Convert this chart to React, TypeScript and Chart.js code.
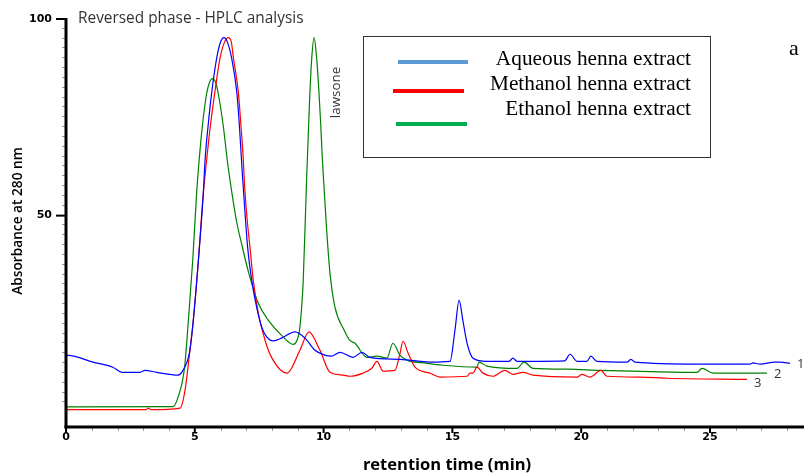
import React, { useEffect, useRef } from "react";
import { Chart, registerables } from "chart.js";
Chart.register(...registerables);

// retention time (min) and absorbance at 280 nm
const aqueousTime = [0, 0.08, 1.05, 1.82, 2.17, 2.87, 3.07, 3.53, 4.35, 4.54, 4.81, 4.94, 5.14, 5.33, 5.4, 5.52, 5.66, 5.85, 6.0, 6.13, 6.27, 6.43, 6.63, 6.73, 6.84, 6.95, 7.05, 7.21, 7.4, 7.6, 7.79, 8.05, 8.37, 8.89, 9.28, 9.67, 10.07, 10.3, 10.64, 11.14, 11.49, 11.8, 12.97, 14.13, 14.91, 15.1, 15.26, 15.41, 15.57, 15.8, 16.34, 17.2, 17.35, 17.51, 18.4, 19.35, 19.57, 19.84, 20.22, 20.38, 20.61, 21.78, 21.93, 22.09, 24.5, 26.55, 26.67, 26.94, 27.52, 27.72, 28.11];
const aqueousAbs = [14.2, 14.2, 12.5, 11.2, 9.9, 9.9, 10.4, 9.9, 9.2, 10.4, 15.5, 23, 38.4, 55.4, 64, 72.8, 81.2, 89.8, 93.9, 95, 93.8, 89.8, 81.2, 72.8, 61, 50.4, 41.8, 33.3, 26.5, 21.4, 18.9, 17.9, 18.6, 20.2, 18.6, 15.5, 14.2, 14, 15, 13.7, 15, 13.7, 13.2, 12.5, 12.7, 20.6, 28.2, 23, 17.3, 13.5, 12.7, 12.7, 13.5, 12.7, 12.7, 12.8, 14.5, 12.7, 12.7, 14, 12.7, 12.5, 13.2, 12.5, 12, 12, 12.3, 12, 12.5, 12.5, 12.2];

const methanolTime = [0, 3.1, 3.2, 3.3, 4.43, 4.62, 4.81, 4.94, 5.14, 5.33, 5.43, 5.6, 5.78, 5.98, 6.15, 6.3, 6.42, 6.5, 6.69, 6.79, 6.88, 6.92, 7.01, 7.14, 7.27, 7.47, 7.73, 7.98, 8.58, 9.08, 9.43, 9.86, 10.25, 10.75, 11.02, 11.53, 11.88, 12.07, 12.31, 12.77, 12.97, 13.08, 13.28, 13.55, 14.13, 14.52, 15.57, 15.68, 15.8, 15.95, 16.19, 16.58, 17.04, 17.35, 17.74, 18.13, 19.84, 20.03, 20.34, 20.77, 21.0, 22.28, 23.33, 26.44];
const methanolAbs = [0.4, 0.4, 0.8, 0.4, 0.8, 5.3, 15.5, 23, 38.4, 55.4, 62, 72.3, 81.2, 89.8, 93.8, 95, 93.8, 89.8, 81.2, 72.8, 64.4, 58.8, 50.4, 41.8, 33.3, 24.8, 18, 13.7, 9.7, 15.5, 20.2, 15.5, 9.9, 9.2, 8.9, 9.7, 11, 12.7, 10.2, 10.4, 14.8, 17.8, 14.8, 11.2, 9.7, 8.7, 8.9, 9.7, 9.7, 11.2, 9.7, 8.9, 10.4, 9.4, 9.9, 9.2, 8.7, 9.4, 8.7, 10.4, 8.9, 8.7, 8.4, 8.1];

const ethanolTime = [0, 4.15, 4.35, 4.6, 4.75, 4.92, 5.07, 5.17, 5.29, 5.46, 5.58, 5.68, 5.8, 5.91, 6.11, 6.26, 6.43, 6.63, 6.82, 7.08, 7.47, 7.85, 8.37, 8.82, 8.95, 9.08, 9.21, 9.34, 9.42, 9.47, 9.54, 9.63, 9.73, 9.82, 9.89, 9.95, 10.0, 10.12, 10.25, 10.44, 10.8, 11.02, 11.22, 11.68, 12.07, 12.46, 12.69, 12.97, 13.24, 14.02, 14.63, 15.95, 16.03, 16.34, 17.51, 17.78, 18.13, 19.45, 20.73, 22.01, 24.5, 24.69, 25.12, 27.21];
const ethanolAbs = [1.1, 1.2, 3.6, 11, 23, 38.4, 55.4, 63.9, 72.3, 80.8, 83.8, 84.6, 83.8, 80.8, 72.3, 63.9, 56, 48, 42.5, 35.5, 27.4, 23.2, 19.3, 17, 17.8, 21.4, 33.3, 58.8, 72.8, 81.2, 89.8, 95, 89.8, 81.2, 72.8, 64.4, 58.8, 46, 35, 26.5, 20.6, 18, 17.3, 13.7, 14, 13.5, 17.3, 14.2, 13, 12.2, 11.7, 11.2, 12.5, 11.5, 10.9, 12.5, 10.9, 10.7, 10.4, 10.2, 9.9, 10.9, 9.7, 9.7];

const seriesNames = ["Aqueous henna extract", "Methanol henna extract", "Ethanol henna extract"];
const traceColors = ["#0000ff", "#ff0000", "#008000"];
const legendColors = ["#5b9bd5", "#ff0000", "#00b050"];
const traceNumbers = ["1", "3", "2"];
const xMajorTicks = [0, 5, 10, 15, 20, 25];
const yMajorTicks = [50, 100];
const xMin = 0, xMax = 28.65, yMin = -4, yMax = 100;
const lawsoneTime = 9.63;

const series = [
  { t: aqueousTime, v: aqueousAbs },
  { t: methanolTime, v: methanolAbs },
  { t: ethanolTime, v: ethanolAbs },
];

const overlay = {
  id: "overlay",
  afterDraw(chart: any) {
    const { ctx, chartArea: a, scales } = chart;
    const x = scales.x, y = scales.y;
    ctx.save();
    // minor y ticks
    ctx.strokeStyle = "#999";
    ctx.lineWidth = 1;
    for (let v = 2.5; v < yMax; v += 2.5) {
      if (v % 50 === 0) continue;
      const py = Math.round(y.getPixelForValue(v)) + 0.5;
      ctx.beginPath(); ctx.moveTo(a.left - 4, py); ctx.lineTo(a.left - 1, py); ctx.stroke();
    }
    // minor x ticks
    for (let v = 1; v < xMax; v += 1) {
      if (v % 5 === 0) continue;
      const px = Math.round(x.getPixelForValue(v)) + 0.5;
      ctx.beginPath(); ctx.moveTo(px, a.bottom); ctx.lineTo(px, a.bottom + 4); ctx.stroke();
    }
    ctx.strokeStyle = "#000";
    // axes
    ctx.lineWidth = 3;
    ctx.beginPath(); ctx.moveTo(a.left, a.top); ctx.lineTo(a.left, a.bottom + 1.5); ctx.stroke();
    ctx.beginPath(); ctx.moveTo(a.left - 1.5, a.bottom); ctx.lineTo(a.right, a.bottom); ctx.stroke();
    // major ticks and labels
    ctx.lineWidth = 2;
    ctx.fillStyle = "#000";
    ctx.font = "bold 11px 'DejaVu Sans'";
    ctx.textAlign = "center"; ctx.textBaseline = "top";
    xMajorTicks.forEach((v) => {
      const px = x.getPixelForValue(v);
      ctx.beginPath(); ctx.moveTo(px, a.bottom); ctx.lineTo(px, a.bottom + 6); ctx.stroke();
      ctx.fillText(String(v), px, a.bottom + 5);
    });
    ctx.textAlign = "right"; ctx.textBaseline = "middle";
    yMajorTicks.forEach((v) => {
      const py = y.getPixelForValue(v) + 1;
      ctx.beginPath(); ctx.moveTo(a.left - 10, py); ctx.lineTo(a.left, py); ctx.stroke();
      ctx.fillText(String(v), a.left - 14, py);
    });
    // axis titles
    ctx.font = "bold 16.5px 'Open Sans'";
    ctx.textAlign = "center"; ctx.textBaseline = "middle";
    ctx.fillText("retention time (min)", 447, 465);
    ctx.save();
    ctx.translate(18, 221); ctx.rotate(-Math.PI / 2);
    ctx.font = "600 13.7px 'Open Sans'";
    ctx.fillText("Absorbance at 280 nm", 0, 0);
    ctx.restore();
    // title
    ctx.fillStyle = "#333";
    ctx.font = "15.4px 'Open Sans'";
    ctx.textAlign = "left"; ctx.textBaseline = "middle";
    ctx.fillText("Reversed phase - HPLC analysis", 78, 19);
    // lawsone
    ctx.save();
    ctx.translate(x.getPixelForValue(lawsoneTime) + 26, 92.5); ctx.rotate(-Math.PI / 2);
    ctx.font = "13.4px 'Open Sans'";
    ctx.textAlign = "center"; ctx.textBaseline = "alphabetic";
    ctx.fillText("lawsone", 0, 0);
    ctx.restore();
    // trace numbers
    ctx.font = "13px 'Open Sans'";
    ctx.fillStyle = "#333";
    ctx.textAlign = "left"; ctx.textBaseline = "middle";
    series.forEach((s, i) => {
      const n = s.t.length - 1;
      const px = x.getPixelForValue(s.t[n]);
      const py = y.getPixelForValue(s.v[n]);
      ctx.fillText(traceNumbers[i], px + 7, py + (i === 1 ? 4 : 1));
    });
    // legend box
    ctx.fillStyle = "#fff";
    ctx.fillRect(363, 36, 347, 121);
    ctx.strokeStyle = "#333"; ctx.lineWidth = 1;
    ctx.strokeRect(363.5, 36.5, 347, 121);
    const lineY = [62, 91, 124];
    const lineX = [[398, 468], [393, 464], [396, 467]];
    const textY = [59, 84, 109];
    ctx.lineWidth = 4;
    ctx.font = "21.3px 'Liberation Serif'";
    ctx.textAlign = "right";
    ctx.fillStyle = "#000";
    seriesNames.forEach((name, i) => {
      ctx.strokeStyle = legendColors[i];
      ctx.beginPath(); ctx.moveTo(lineX[i][0], lineY[i]); ctx.lineTo(lineX[i][1], lineY[i]); ctx.stroke();
      ctx.fillText(name, 691, textY[i]);
    });
    ctx.textAlign = "left";
    ctx.font = "22px 'Liberation Serif'";
    ctx.fillText("a", 789, 49);
    ctx.restore();
  },
};

export default function App() {
  const ref = useRef<HTMLCanvasElement>(null);
  useEffect(() => {
    if (!ref.current) return;
    const chart = new Chart(ref.current, {
      type: "line",
      data: {
        datasets: series.map((s, i) => ({
          label: seriesNames[i],
          data: s.t.map((t, k) => ({ x: t, y: s.v[k] })),
          borderColor: traceColors[i],
          borderWidth: 1.2,
          pointRadius: 0,
          cubicInterpolationMode: "monotone" as const,
          fill: false,
        })),
      },
      options: {
        animation: false,
        responsive: false,
        maintainAspectRatio: false,
        layout: { padding: { left: 66, top: 18, right: 0, bottom: 47 } },
        plugins: { legend: { display: false }, tooltip: { enabled: false }, title: { display: false } },
        scales: {
          x: { type: "linear", min: xMin, max: xMax, display: false },
          y: { type: "linear", min: yMin, max: yMax, display: false },
        },
      },
      plugins: [overlay],
    });
    return () => chart.destroy();
  }, []);
  return (
    <div style={{ position: "absolute", left: 0, top: 0, width: 804, height: 474, background: "#fff" }}>
      <canvas ref={ref} width={804} height={474} />
    </div>
  );
}
